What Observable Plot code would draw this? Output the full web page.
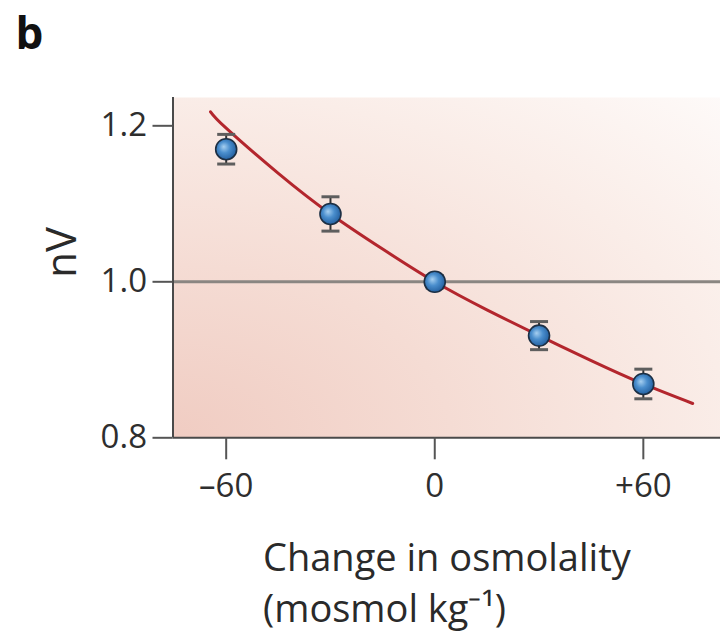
<!DOCTYPE html>
<html><head><meta charset="utf-8">
<script src="https://cdn.jsdelivr.net/npm/d3@7"></script>
<script src="https://cdn.jsdelivr.net/npm/@observablehq/plot@0.6"></script>
<style>html,body{margin:0;padding:0;background:#fff} svg{display:block}</style>
</head><body><div id="chart"></div>
<script>
// ---- data ----
const osmChange = [-60, -30, 0, 30, 60];
const nVmean = [1.170, 1.087, 1.000, 0.931, 0.869];
const nVerr = [0.019, 0.022, 0.008, 0.018, 0.019];
const fitX = [-64.5, -60, -45, -30, -15, 0, 15, 30, 45, 60, 74.2];
const fitY = [1.218, 1.197, 1.139, 1.087, 1.042, 1.000, 0.964, 0.931, 0.899, 0.869, 0.844];
const xTicks = [-60, 0, 60];
const xTickLabels = ["–60", "0", "+60"];
const yTicks = [0.8, 1.0, 1.2];
const yTickLabels = ["0.8", "1.0", "1.2"];
const refLine = [1.0];
const xDomain = [-75.3, 82.2];
const yDomain = [0.8, 1.2363];
const panelLabel = "b";
const yTitle = "nV";
const xTitle = "Change in osmolality\n(mosmol kg⁻¹)";

const points = osmChange.map((x, i) => ({x, y: nVmean[i], err: nVerr[i]}));
const fit = fitX.map((x, i) => ({x, y: fitY[i]}));

const capSymbol = {draw(context) { context.moveTo(-9, 0); context.lineTo(9, 0); }};

const svg = Plot.plot({
  width: 720, height: 633,
  marginLeft: 172.5, marginRight: 0, marginTop: 97, marginBottom: 195.7,
  style: {fontFamily: "'Open Sans', sans-serif", fontSize: "33px", background: "#fff", color: "#2e2e2e"},
  x: {domain: xDomain},
  y: {domain: yDomain},
  marks: [
    Plot.frame({fill: "url(#bgGrad)", stroke: "none"}),
    Plot.ruleY(refLine, {stroke: "#8a8682", strokeWidth: 3}),
    Plot.line(fit, {x: "x", y: "y", curve: "natural", stroke: "#b3262d", strokeWidth: 3}),
    Plot.ruleX(points, {x: "x", y1: d => d.y - d.err, y2: d => d.y + d.err, stroke: "#333", strokeWidth: 2}),
    Plot.dot(points, {x: "x", y: d => d.y + d.err, symbol: capSymbol, stroke: "#5e5e5e", strokeWidth: 3, fill: "none"}),
    Plot.dot(points, {x: "x", y: d => d.y - d.err, symbol: capSymbol, stroke: "#5e5e5e", strokeWidth: 3, fill: "none"}),
    Plot.dot(points, {x: "x", y: "y", r: 10.5, fill: "url(#dotGrad)", stroke: "#1c2f44", strokeWidth: 1.6}),
    Plot.ruleX([xDomain[0]], {stroke: "#4a4a4a", strokeWidth: 2}),
    Plot.ruleY([yDomain[0]], {stroke: "#4a4a4a", strokeWidth: 2}),
    Plot.axisY({ticks: yTicks, tickFormat: d => yTickLabels[yTicks.indexOf(d)], tickSize: 20, tickPadding: 6, fontSize: 33, label: null, stroke: "#555", strokeWidth: 2, fill: "#2e2e2e"}),
    Plot.axisX({ticks: xTicks, tickFormat: d => xTickLabels[xTicks.indexOf(d)], tickSize: 22, tickPadding: 14, fontSize: 33, label: null, stroke: "#555", strokeWidth: 2, fill: "#2e2e2e"}),
    Plot.text([yTitle], {frameAnchor: "left", dx: -110, dy: 10, rotate: -90, fontSize: 42, fill: "#2a2a2a"}),
    Plot.text([xTitle], {frameAnchor: "bottom-left", textAnchor: "start", lineAnchor: "top", dx: 90, dy: 98, fontSize: 38, lineHeight: 1.32, fill: "#2a2a2a"}),
    Plot.text([panelLabel], {frameAnchor: "top-left", textAnchor: "start", lineAnchor: "top", dx: -157.5, dy: -80, fontSize: 44, fontWeight: "bold", fill: "#111"})
  ]
});

const defs = d3.select(svg).insert("defs", ":first-child");
const bg = defs.append("radialGradient").attr("id", "bgGrad")
  .attr("cx", 0).attr("cy", 1).attr("r", 1.45);
[[0, "#f0ccc2"], [0.35, "#f5dcd4"], [0.7, "#faede8"], [1, "#fefbfa"]].forEach(([o, c]) =>
  bg.append("stop").attr("offset", o).attr("stop-color", c));
const dg = defs.append("radialGradient").attr("id", "dotGrad")
  .attr("cx", 0.45).attr("cy", 0.45).attr("r", 0.6).attr("fx", 0.38).attr("fy", 0.38);
[[0, "#a6cff0"], [0.45, "#4a8ecd"], [1, "#1f5a9a"]].forEach(([o, c]) =>
  dg.append("stop").attr("offset", o).attr("stop-color", c));

document.getElementById("chart").appendChild(svg);
</script>
</body></html>
